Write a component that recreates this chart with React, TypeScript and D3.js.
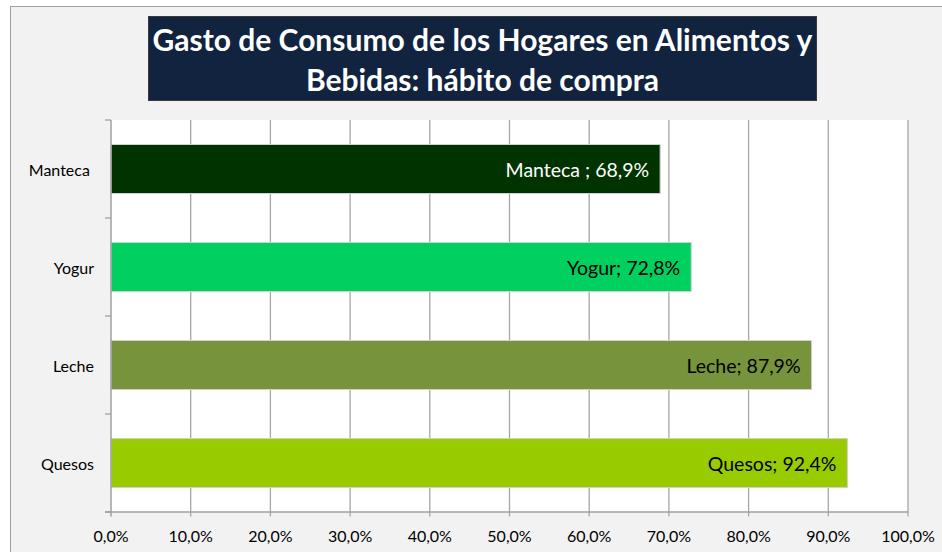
import React from "react";
import * as d3 from "d3";

const categories = ["Manteca ", "Yogur", "Leche", "Quesos"];
const values = [68.9, 72.8, 87.9, 92.4];
const barColors = ["#003300", "#00d060", "#77933c", "#99cc00"];
const labelColors = ["#ffffff", "#000000", "#000000", "#000000"];
const xTickValues = [0, 10, 20, 30, 40, 50, 60, 70, 80, 90, 100];
const titleLines = ["Gasto de Consumo de los Hogares en Alimentos y", "Bebidas: hábito de compra"];

const W = 942;
const H = 552;
const FONT = "Lato, 'Open Sans', sans-serif";

const fmt = (v: number) => v.toFixed(1).replace(".", ",") + "%";

export default function App() {
  const plot = { left: 111, right: 908, top: 120, bottom: 512 };
  const x = d3.scaleLinear().domain([0, 100]).range([plot.left, plot.right]);
  const y = d3
    .scaleBand<string>()
    .domain(categories)
    .range([plot.top, plot.bottom])
    .paddingInner(0.5)
    .paddingOuter(0.25);
  const step = y.step();
  const catTicks = d3.range(categories.length + 1).map((i) => plot.top + i * step);

  return (
    <svg
      width={W}
      height={H}
      style={{ position: "absolute", left: 0, top: 0, display: "block" }}
      fontFamily={FONT}
    >
      <rect x={0} y={0} width={W} height={H} fill="#ffffff" />
      <rect x={10.5} y={6.5} width={W + 10} height={H + 10} fill="#f2f2f2" stroke="#a0a0a0" strokeWidth={1} />

      {/* Title */}
      <rect x={148.5} y={16.5} width={668} height={84} fill="#12233f" stroke="#3a3a3a" strokeWidth={1} />
      {titleLines.map((t, i) => (
        <text
          key={i}
          x={482.5}
          y={51 + i * 40}
          textAnchor="middle"
          fill="#ffffff"
          fontWeight={700}
          fontSize={30}
        >
          {t}
        </text>
      ))}

      {/* Plot area */}
      <rect x={plot.left} y={plot.top} width={plot.right - plot.left} height={plot.bottom - plot.top} fill="#ffffff" />

      {/* Gridlines */}
      {xTickValues.slice(1).map((v) => (
        <line
          key={v}
          x1={x(v)}
          x2={x(v)}
          y1={plot.top}
          y2={plot.bottom + 4.5}
          stroke="#a6a6a6"
          strokeWidth={1.3}
        />
      ))}

      {/* Bars */}
      {categories.map((c, i) => (
        <rect
          key={c}
          x={x(0)}
          y={y(c)!}
          width={x(values[i]) - x(0)}
          height={y.bandwidth()}
          fill={barColors[i]}
          stroke="#d0d0d0"
          strokeWidth={1}
        />
      ))}

      {/* Axes */}
      <line x1={plot.left} x2={plot.left} y1={plot.top} y2={plot.bottom + 4.5} stroke="#a0a0a0" strokeWidth={1.5} />
      <line x1={plot.left - 6} x2={plot.right} y1={plot.bottom} y2={plot.bottom} stroke="#a0a0a0" strokeWidth={1.5} />
      {catTicks.map((t, i) => (
        <line key={i} x1={plot.left - 6} x2={plot.left} y1={t} y2={t} stroke="#a0a0a0" strokeWidth={1.3} />
      ))}

      {/* Category labels */}
      {categories.map((c) => (
        <text
          key={c}
          x={94}
          y={y(c)! + y.bandwidth() / 2}
          textAnchor="end"
          dominantBaseline="central"
          fontSize={16}
          fill="#000000"
          xmlSpace="preserve"
          style={{ whiteSpace: "pre" }}
        >
          {c}
        </text>
      ))}

      {/* X tick labels */}
      {xTickValues.map((v) => (
        <text key={v} x={x(v)} y={541.5} textAnchor="middle" fontSize={16} fill="#000000">
          {fmt(v)}
        </text>
      ))}

      {/* Data labels */}
      {categories.map((c, i) => (
        <text
          key={c}
          x={x(values[i]) - 11}
          y={y(c)! + y.bandwidth() / 2}
          textAnchor="end"
          dominantBaseline="central"
          fontSize={19.5}
          fill={labelColors[i]}
          xmlSpace="preserve"
          style={{ whiteSpace: "pre" }}
        >
          {`${c}; ${fmt(values[i])}`}
        </text>
      ))}
    </svg>
  );
}
